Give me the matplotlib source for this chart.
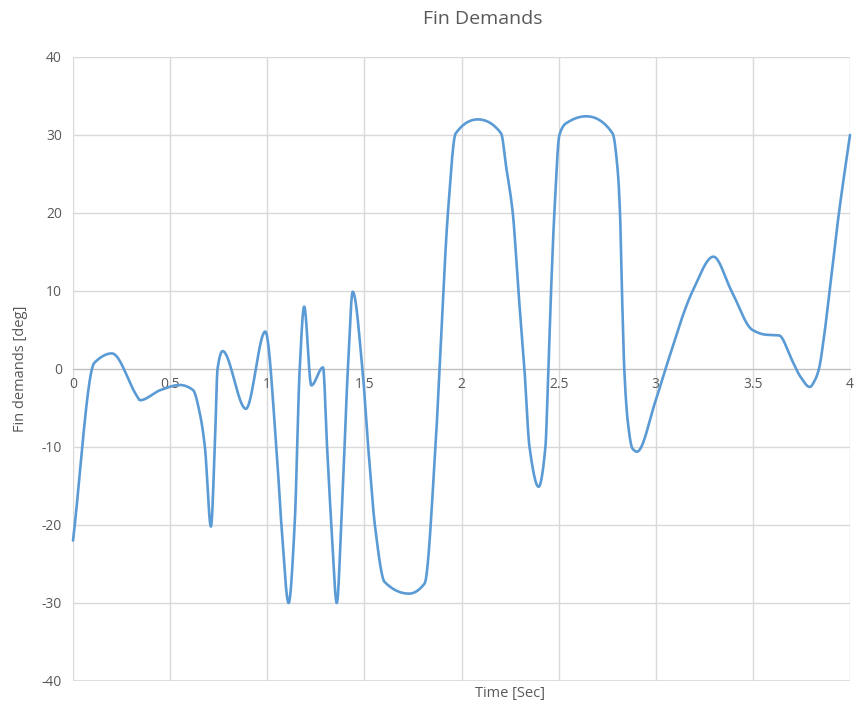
import numpy as np
import matplotlib
matplotlib.use('Agg')
import matplotlib.pyplot as plt

# Points (time in s, fin demand in deg)
time_s = [0.0, 0.11, 0.2, 0.33, 0.345, 0.45, 0.55, 0.618, 0.653, 0.679, 0.71,
          0.73, 0.744, 0.77, 0.89, 0.99, 1.047, 1.073, 1.11, 1.141, 1.167,
          1.19, 1.227, 1.287, 1.308, 1.33, 1.358, 1.381, 1.415, 1.44, 1.49,
          1.52, 1.555, 1.604, 1.73, 1.81, 1.866, 1.887, 1.93, 1.97, 2.084,
          2.204, 2.23, 2.264, 2.293, 2.324, 2.35, 2.397, 2.432, 2.447, 2.461,
          2.478, 2.504, 2.538, 2.641, 2.778, 2.804, 2.816, 2.826, 2.838,
          2.855, 2.88, 2.903, 3.0, 3.05, 3.19, 3.297, 3.39, 3.498, 3.566,
          3.635, 3.70, 3.745, 3.793, 3.82, 3.84, 3.866, 3.895, 3.943, 4.0]
fin_deg = [-22, 0.8, 2.0, -3.5, -4.0, -2.7, -2.05, -2.7, -5.7, -10, -20.2,
           -10, 0, 2.3, -5.1, 4.8, -10, -20, -30, -20, 0,
           8.0, -2.1, 0.2, -10, -20, -30, -20, 0, 9.9, 0,
           -10.1, -20.2, -27.3, -28.8, -27.5, -10, 0, 20, 30.2, 32,
           30.2, 25.9, 20, 10, 0, -10, -15.1, -10, 0, 10,
           20, 30, 31.5, 32.4, 30.2, 25.5, 20, 10, 0,
           -6.5, -10.2, -10.6, -4, 0, 10, 14.4, 10, 5.0, 4.4,
           4.3, 1.2, -1.0, -2.3, -1.4, 0, 4.1, 10, 20, 30]

x_ticks = [0, 0.5, 1, 1.5, 2, 2.5, 3, 3.5, 4]
x_tick_labels = ['0', '0.5', '1', '1.5', '2', '2.5', '3', '3.5', '4']
y_ticks = [-40, -30, -20, -10, 0, 10, 20, 30, 40]

BLUE = '#5B9BD5'
GREY = '#595959'


def pchip(xs, ys, n=40):
    # monotone cubic (Fritsch-Carlson) so the smoothed line never overshoots
    x = np.asarray(xs, float)
    y = np.asarray(ys, float)
    h = np.diff(x)
    d = np.diff(y) / h
    m = np.zeros_like(y)
    for k in range(1, len(y) - 1):
        if d[k - 1] * d[k] > 0:
            w1 = 2 * h[k] + h[k - 1]
            w2 = h[k] + 2 * h[k - 1]
            m[k] = (w1 + w2) / (w1 / d[k - 1] + w2 / d[k])
    m[0], m[-1] = d[0], d[-1]
    px, py = [x[0]], [y[0]]
    for k in range(len(h)):
        t = np.linspace(0, 1, n)[1:]
        h00 = 2 * t ** 3 - 3 * t ** 2 + 1
        h10 = t ** 3 - 2 * t ** 2 + t
        h01 = -2 * t ** 3 + 3 * t ** 2
        h11 = t ** 3 - t ** 2
        px.extend(x[k] + t * h[k])
        py.extend(h00 * y[k] + h10 * h[k] * m[k] + h01 * y[k + 1] + h11 * h[k] * m[k + 1])
    return np.array(px), np.array(py)


plt.rcParams['font.family'] = ['Open Sans', 'DejaVu Sans']
plt.rcParams['axes.unicode_minus'] = False

fig = plt.figure(figsize=(8.59, 7.07), dpi=100)
ax = fig.add_axes([73 / 859, 1 - 681 / 707, 777 / 859, 624 / 707])

xs, ys = pchip(time_s, fin_deg)
ax.plot(xs, ys, color=BLUE, lw=1.9, solid_capstyle='round', solid_joinstyle='round',
        zorder=3, clip_on=False)

ax.set_xlim(0, 4)
ax.set_ylim(-40, 40)
ax.set_xticks(x_ticks)
ax.set_xticklabels(x_tick_labels)
ax.set_yticks(y_ticks)
ax.grid(True, color='#d9d9d9', lw=1)
ax.set_axisbelow(True)

for s in ['top', 'right', 'left']:
    ax.spines[s].set_visible(False)
ax.spines['bottom'].set_position(('data', 0))
ax.spines['bottom'].set_color('#bfbfbf')
ax.tick_params(axis='both', length=0, colors=GREY, labelsize=10)
ax.tick_params(axis='x', pad=6)
ax.tick_params(axis='y', pad=8)

ax.axhline(-40, color='#d9d9d9', lw=1.2, zorder=1)

fig.text(483 / 859, 1 - 19 / 707, 'Fin Demands', ha='center', va='center',
         fontsize=14, color=GREY)
fig.text(510 / 859, 1 - 694 / 707, 'Time [Sec]', ha='center', va='center',
         fontsize=10.5, color=GREY)
fig.text(21 / 859, 1 - 369 / 707, 'Fin demands [deg]', ha='center', va='center',
         rotation=90, fontsize=10.5, color=GREY)

fig.savefig('out.png', dpi=100, facecolor='white')
